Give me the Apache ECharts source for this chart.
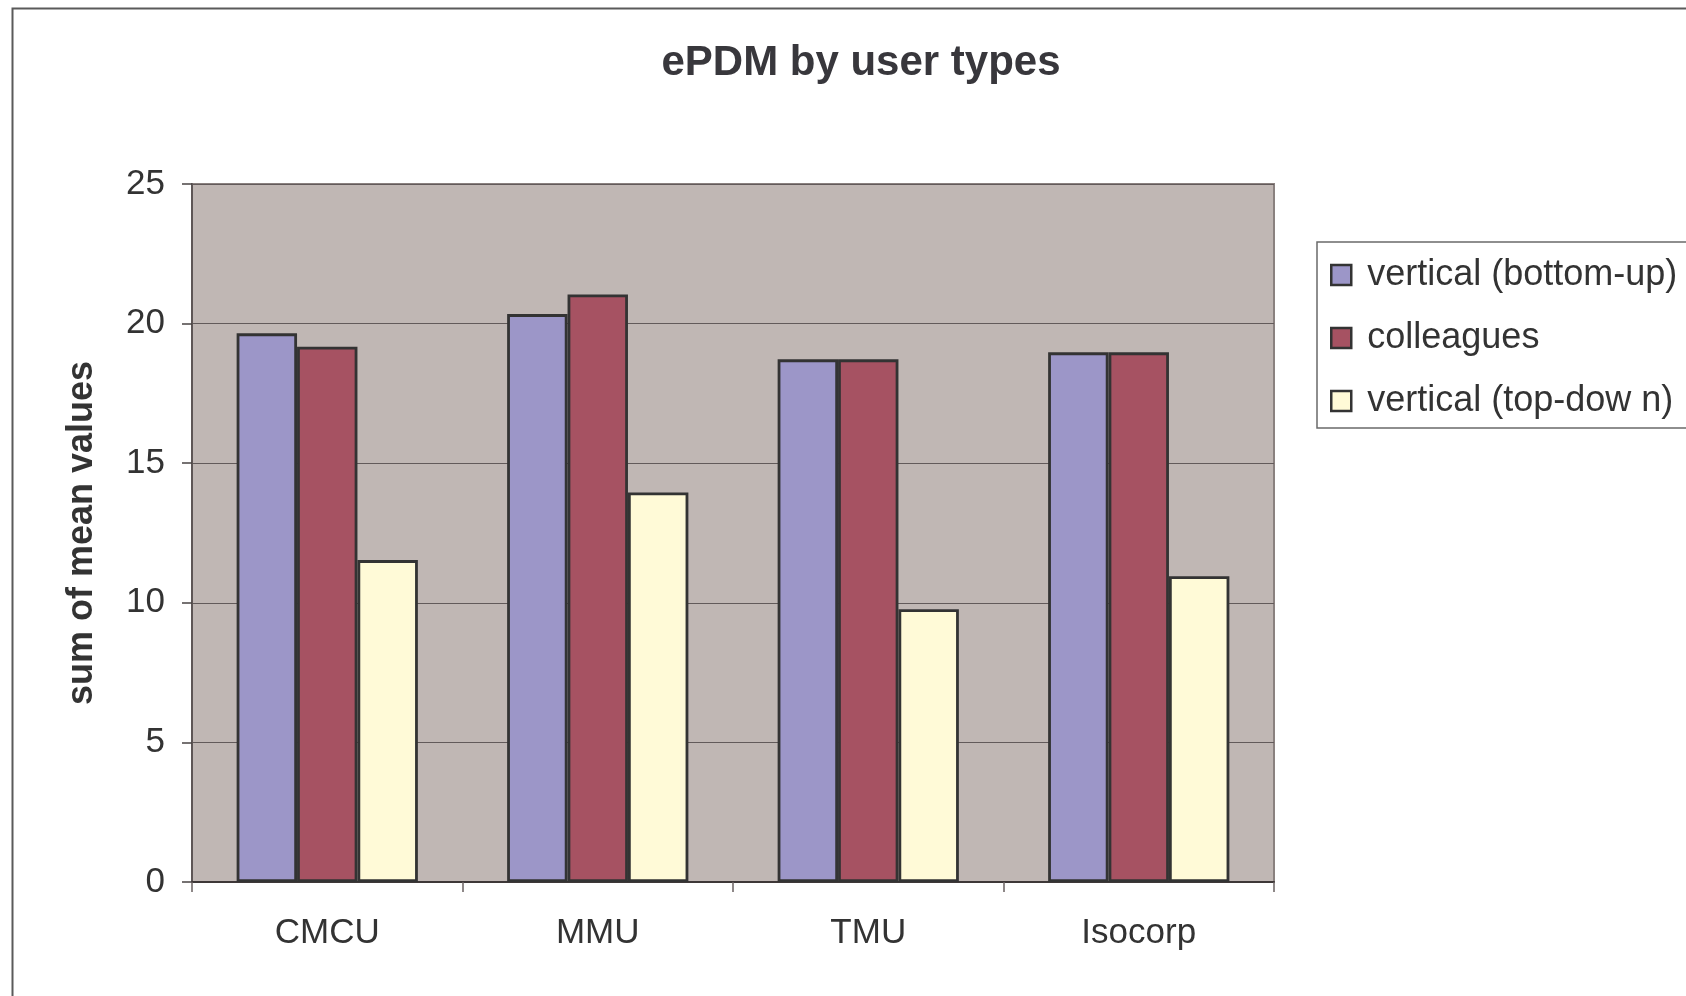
<!DOCTYPE html>
<html>
<head>
<meta charset="utf-8">
<script src="https://cdn.jsdelivr.net/npm/echarts@6/dist/echarts.min.js"></script>
<style>
html,body{margin:0;padding:0;background:#fff;}
#chart{width:1686px;height:996px;}
</style>
</head>
<body>
<div id="chart"></div>
<script>
const categories = ['CMCU', 'MMU', 'TMU', 'Isocorp'];
const seriesNames = ['vertical (bottom-up)', 'colleagues', 'vertical (top-dow n)'];
const bottomUp = [19.65, 20.34, 18.72, 18.97];
const colleagues = [19.17, 21.04, 18.72, 18.97];
const topDown = [11.53, 13.95, 9.77, 10.95];
const yTicks = [0, 5, 10, 15, 20, 25];

const colors = ['#9c96c8', '#a65262', '#fffad7'];
const values = [bottomUp, colleagues, topDown];
const FONT = '"Liberation Sans", Arial, sans-serif';

const chart = echarts.init(document.getElementById('chart'), null, {renderer: 'canvas'});

const option = {
  backgroundColor: '#ffffff',
  animation: false,
  title: {
    text: 'ePDM by user types',
    left: 856,
    textAlign: 'center',
    top: 37,
    textStyle: {fontFamily: FONT, fontSize: 42, fontWeight: 'bold', color: '#38373c'}
  },
  graphic: [{
    type: 'rect',
    left: 10, top: 6,
    shape: {width: 2000, height: 2000},
    style: {fill: 'none', stroke: '#5a5a5a', lineWidth: 2},
    silent: true,
    z: -10
  }],
  legend: {
    orient: 'vertical',
    left: 1317,
    top: 242,
    padding: [15, 20, 9, 13],
    itemWidth: 20,
    itemHeight: 20,
    itemGap: 27,
    backgroundColor: '#ffffff',
    borderColor: '#6a6a6a',
    borderWidth: 1.5,
    icon: 'rect',
    itemStyle: {borderColor: '#333', borderWidth: 2.5},
    textStyle: {fontFamily: FONT, fontSize: 36, color: '#333', padding: [0, 0, 0, 11]},
    data: seriesNames
  },
  grid: {
    left: 192, top: 184, right: 412, bottom: 114,
    show: true,
    backgroundColor: '#c0b7b4',
    borderColor: '#8a817f',
    borderWidth: 2
  },
  xAxis: {
    type: 'category',
    data: categories,
    boundaryGap: true,
    axisLine: {lineStyle: {color: '#3e3838', width: 2}},
    axisTick: {show: true, length: 10, lineStyle: {color: '#6a6262', width: 1.5}},
    axisLabel: {fontFamily: FONT, fontSize: 35, color: '#333', margin: 34}
  },
  yAxis: {
    type: 'value',
    min: yTicks[0],
    max: yTicks[yTicks.length - 1],
    interval: 5,
    name: 'sum of mean values',
    nameLocation: 'middle',
    nameGap: 92,
    nameTextStyle: {fontFamily: FONT, fontSize: 36, fontWeight: 'bold', color: '#333'},
    axisLine: {show: true, lineStyle: {color: '#5e5656', width: 2}},
    axisTick: {show: true, length: 10, lineStyle: {color: '#4a4444', width: 1.5}},
    axisLabel: {fontFamily: FONT, fontSize: 35, color: '#333', margin: 27},
    splitLine: {show: true, lineStyle: {color: '#625a5a', width: 1.2}}
  },
  series: seriesNames.map((name, i) => ({
    name: name,
    type: 'bar',
    data: values[i],
    barGap: '0%',
    barCategoryGap: '33%',
    itemStyle: {color: colors[i], borderColor: '#333', borderWidth: 2.8}
  }))
};

chart.setOption(option);
</script>
</body>
</html>
